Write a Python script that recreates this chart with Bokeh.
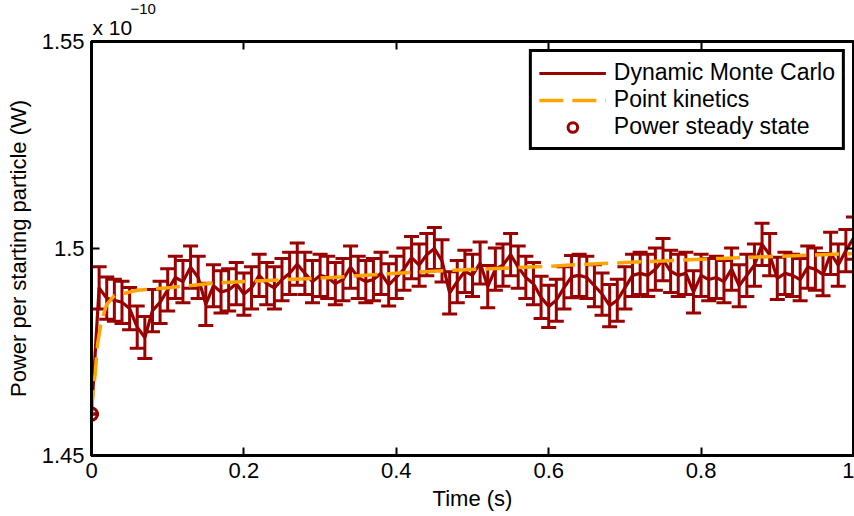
from bokeh.plotting import figure
from bokeh.models import (Range1d, FixedTicker, LinearAxis, Whisker, ColumnDataSource,
                          Legend, LegendItem, Title, TeeHead)
from bokeh.embed import file_html
from bokeh.resources import INLINE

# ---- data (power in units of 1e-10 W) ----
t_dmc = [round(i * 0.01, 2) for i in range(101)]
p_dmc = [1.4600,
         1.4905, 1.4880, 1.4875, 1.4870, 1.4855, 1.4810, 1.4785, 1.4850, 1.4870, 1.4900,
         1.4930, 1.4920, 1.4955, 1.4930, 1.4865, 1.4910, 1.4895, 1.4900, 1.4915, 1.4890,
         1.4905, 1.4935, 1.4915, 1.4905, 1.4925, 1.4940, 1.4962, 1.4940, 1.4920, 1.4935,
         1.4930, 1.4915, 1.4925, 1.4955, 1.4930, 1.4920, 1.4925, 1.4940, 1.4912, 1.4930,
         1.4950, 1.4978, 1.4960, 1.4985, 1.5000, 1.4970, 1.4893, 1.4920, 1.4945, 1.4935,
         1.4965, 1.4908, 1.4950, 1.4960, 1.4985, 1.4955, 1.4930, 1.4915, 1.4882, 1.4860,
         1.4875, 1.4905, 1.4932, 1.4935, 1.4930, 1.4910, 1.4890, 1.4862, 1.4875, 1.4905,
         1.4935, 1.4940, 1.4935, 1.4950, 1.4973, 1.4945, 1.4935, 1.4940, 1.4895, 1.4935,
         1.4925, 1.4930, 1.4920, 1.4950, 1.4910, 1.4935, 1.4960, 1.5010, 1.4985, 1.4928,
         1.4940, 1.4935, 1.4925, 1.4955, 1.4950, 1.4937, 1.4988, 1.4960, 1.4995, 1.5025]
err_dmc = [0.0] + [0.0051] * 100

t_pk = [0.0, 0.002, 0.005, 0.008, 0.013, 0.02, 0.03, 0.06, 0.105, 0.158, 0.2, 0.316,
        0.4, 0.47, 0.51, 0.6, 0.65, 0.7, 0.825, 0.9, 1.0]
p_pk = [1.4600, 1.4650, 1.4700, 1.4770, 1.4826, 1.4865, 1.4886, 1.4899, 1.4906, 1.4916,
        1.4920, 1.4930, 1.4940, 1.4947, 1.4950, 1.4957, 1.4962, 1.4966, 1.4976, 1.4981, 1.4988]

t_ss = [0.0]
p_ss = [1.4600]

x_ticks = [0, 0.2, 0.4, 0.6, 0.8, 1.0]
x_tick_labels = ["0", "0.2", "0.4", "0.6", "0.8", "1"]
y_ticks = [1.45, 1.5, 1.55]
y_tick_labels = ["1.45", "1.5", "1.55"]

RED = "#990000"
ORANGE = "#FFA500"
FONT = "Liberation Sans"
FS = "22px"

p = figure(width=854, height=516, x_range=Range1d(0, 1), y_range=Range1d(1.45, 1.55),
           output_backend="svg", toolbar_location=None,
           min_border_left=91, min_border_right=1, min_border_top=41, min_border_bottom=61)
p.background_fill_color = "white"
p.border_fill_color = "white"
p.xgrid.visible = False
p.ygrid.visible = False
p.outline_line_color = "black"
p.outline_line_width = 3

def style_axis(ax, ticks, labels):
    ax.ticker = FixedTicker(ticks=ticks)
    ax.major_label_overrides = {tk: lb for tk, lb in zip(ticks, labels)}
    ax.major_tick_in = 8
    ax.major_tick_out = 0
    ax.minor_tick_line_color = None
    ax.major_tick_line_width = 2
    ax.major_tick_line_color = "black"
    ax.axis_line_width = 3
    ax.axis_line_color = "black"
    ax.major_label_text_font = FONT
    ax.major_label_text_font_size = FS
    ax.major_label_text_color = "black"
    ax.axis_label_text_font = FONT
    ax.axis_label_text_font_size = FS
    ax.axis_label_text_font_style = "normal"
    ax.axis_label_text_color = "black"

style_axis(p.xaxis[0], x_ticks, x_tick_labels)
style_axis(p.yaxis[0], y_ticks, y_tick_labels)
p.xaxis[0].axis_label = "Time (s)"
p.yaxis[0].axis_label = "Power per starting particle (W)"
p.xaxis[0].major_label_standoff = 7
p.yaxis[0].major_label_standoff = 7
p.xaxis[0].axis_label_standoff = 5
p.yaxis[0].axis_label_standoff = 8

top_ax = LinearAxis()
style_axis(top_ax, x_ticks, [""] * len(x_ticks))
top_ax.major_label_standoff = 0
p.add_layout(top_ax, "above")
right_ax = LinearAxis()
style_axis(right_ax, y_ticks, [""] * len(y_ticks))
right_ax.major_label_standoff = 0
p.add_layout(right_ax, "right")

src = ColumnDataSource(dict(t=t_dmc, p=p_dmc,
                            lo=[a - e for a, e in zip(p_dmc, err_dmc)],
                            hi=[a + e for a, e in zip(p_dmc, err_dmc)]))
wh = Whisker(source=src, base="t", lower="lo", upper="hi", line_color=RED, line_width=3,
             upper_head=TeeHead(size=15, line_color=RED, line_width=3),
             lower_head=TeeHead(size=15, line_color=RED, line_width=3))
p.add_layout(wh)
r_dmc = p.line("t", "p", source=src, line_color=RED, line_width=3.2)
r_pk = p.line(t_pk, p_pk, line_color=ORANGE, line_width=3.5, line_dash="24 9")
r_ss = p.scatter(t_ss, p_ss, marker="circle", size=12, fill_color=None,
                 line_color=RED, line_width=3)

legend = Legend(items=[LegendItem(label="Dynamic Monte Carlo", renderers=[r_dmc]),
                       LegendItem(label="Point kinetics", renderers=[r_pk]),
                       LegendItem(label="Power steady state", renderers=[r_ss])],
                location="top_right")
legend.label_text_font = FONT
legend.label_text_font_size = "23px"
legend.label_text_color = "black"
legend.border_line_color = "black"
legend.border_line_alpha = 1.0
legend.border_line_width = 3
legend.background_fill_alpha = 1.0
legend.glyph_width = 67
legend.glyph_height = 24
legend.label_height = 24
legend.spacing = 0
legend.padding = 7
legend.margin = 8
legend.label_standoff = 8
p.add_layout(legend)

# "x 10^-10" multiplier above the top-left corner
t_main = Title(text="x 10", align="left", offset=1, standoff=5,
               text_font=FONT, text_font_size="21px", text_font_style="normal",
               text_color="black")
t_exp = Title(text="\u221210", align="left", offset=39, standoff=-4,
              text_font=FONT, text_font_size="15px", text_font_style="normal",
              text_color="black")
p.add_layout(t_main, "above")
p.add_layout(t_exp, "above")

open("out.html", "w").write(file_html(p, INLINE))
